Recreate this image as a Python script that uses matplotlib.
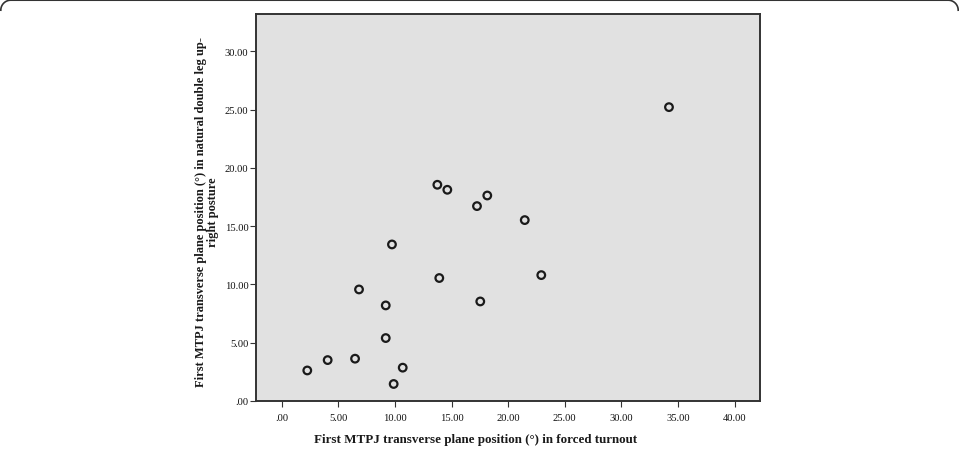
import numpy
import matplotlib
matplotlib.use("Agg")
from matplotlib import pyplot as plt

# first MTPJ transverse plane position, forced turnout (x) vs natural stance (y)
forced_turnout = [2.26, 4.06, 6.48, 6.83, 9.19, 9.19, 9.74, 9.89, 10.69, 13.92,
                  17.54, 17.25, 13.75, 14.63, 18.16, 21.47, 22.93, 34.21]
natural_stance = [2.62, 3.51, 3.63, 9.57, 8.20, 5.40, 13.43, 1.46, 2.86, 10.55,
                  8.54, 16.72, 18.55, 18.12, 17.63, 15.52, 10.80, 25.21]

x_ticks = [0, 5, 10, 15, 20, 25, 30, 35, 40]
y_ticks = [0, 5, 10, 15, 20, 25, 30]

def fmt(v):
    s = '%.2f' % v
    return s[1:] if s.startswith('0') else s

W, H = 959, 452
fig = plt.figure(figsize=(W / 100, H / 100), dpi=100)
serif = ['Liberation Serif', 'DejaVu Serif']

# rounded frame along the top edge, drawn in pixel coordinates
bg = fig.add_axes([0, 0, 1, 1])
bg.set_xlim(0, W)
bg.set_ylim(H, 0)
bg.axis('off')
r = 10
a = numpy.linspace(numpy.pi, 1.5 * numpy.pi, 20)
left_x = 0.8 + r + r * numpy.cos(a)
left_y = 1.2 + r + r * numpy.sin(a)
right_x = W - 0.8 - r - r * numpy.cos(a)
fx = numpy.concatenate([left_x, right_x[::-1]])
fy = numpy.concatenate([left_y, left_y[::-1]])
bg.plot(fx, fy, color='#333333', linewidth=1.2)

ax = fig.add_axes([256 / W, 50 / H, 504 / W, 387 / H])
ax.set_facecolor('#e1e1e1')
ax.scatter(forced_turnout, natural_stance, s=30, facecolors='none',
           edgecolors='#1a1a1a', linewidths=1.6, zorder=3)

ax.set_xlim(-2.27, 42.25)
ax.set_ylim(0, 33.2)
ax.set_xticks(x_ticks)
ax.set_yticks(y_ticks)
ax.set_xticklabels([fmt(v) for v in x_ticks], family=serif, fontsize=7.6, color='#111111')
ax.set_yticklabels([fmt(v) for v in y_ticks], family=serif, fontsize=7.6, color='#111111')
ax.tick_params(direction='out', length=4, width=0.8, color='#333333', pad=1.5)
ax.tick_params(axis='x', pad=5)
for side in ax.spines.values():
    side.set_color('#333333')
    side.set_linewidth(1.4)

fig.text(476 / W, 1 - 440 / H, 'First MTPJ transverse plane position (°) in forced turnout',
         ha='center', va='center', family=serif, fontweight='bold', fontsize=9.4,
         color='#1a1a1a')
fig.text(207 / W, 1 - 212 / H,
         'First MTPJ transverse plane position (°) in natural double leg up-\nright posture',
         ha='center', va='center', rotation=90, family=serif, fontweight='bold',
         fontsize=9.0, color='#1a1a1a', linespacing=1.05, multialignment='center')

fig.savefig('out.png', dpi=100)
